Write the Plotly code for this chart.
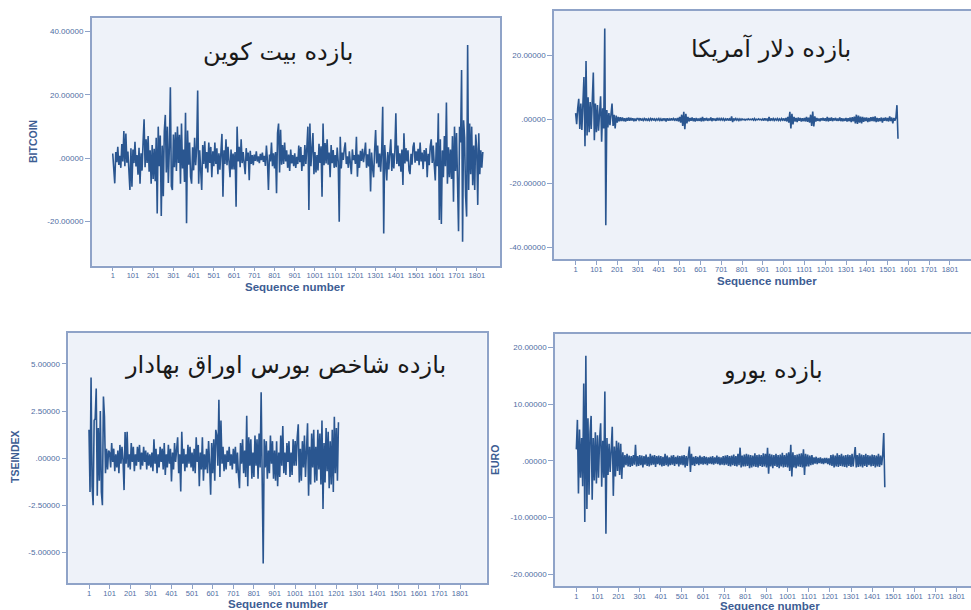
import plotly.graph_objects as go

# ---------------- data (values sampled every 5 sequence numbers) ----------------
bitcoin = [
    1.5, -3.2, -7.9, 2.0, -1.2, 3.6, -2.1, 0.8, -3.0, 4.5, -1.0, 8.6, -2.5, 7.8, -1.4, 2.1, -5.0, -10.0, 3.2, -9.0,
    2.8, -1.5, 5.2, -2.6, 1.0, -5.2, 3.3, -8.0, 1.6, -3.9, 5.1, 12.3, -2.8, 6.0, -1.5, 7.0, -4.2, 2.5, -8.0, 4.2,
    -6.5, 3.0, -7.2, 6.5, -17.4, 10.0, -2.5, 7.2, -18.2, 4.0, -12.0, 8.5, 13.7, -4.5, 10.0, -7.8, 3.2, 22.4, -8.8, -10.0,
    7.5, -2.8, 8.2, -4.0, 10.0, -1.5, 7.4, -8.0, 11.0, -3.2, 2.8, -7.5, 14.4, -20.5, 8.8, -2.0, 5.0, -5.8, -8.0, 3.5,
    -3.8, 6.5, -2.2, 3.0, 21.4, -8.0, 2.5, -6.0, -10.0, 4.2, -1.8, 5.4, -3.2, 2.0, -4.5, 5.0, -1.5, 3.6, -6.0, 2.2,
    -2.5, 5.0, -1.8, 3.2, -5.0, 1.6, -3.6, 2.0, 7.7, -12.1, 2.5, -1.8, 6.0, -2.2, 3.6, -1.0, -6.0, 2.8, -3.5, 1.5,
    -3.5, 2.0, -15.3, 10.0, -1.0, 3.6, -2.8, 6.0, -1.5, 2.0, -1.2, -5.0, 3.2, -0.8, 1.8, -6.9, 2.4, -1.8, 1.0, -2.2,
    1.2, -0.8, 2.2, -1.0, 0.6, -1.5, 1.4, -0.6, 1.8, -1.1, 0.8, -2.4, 4.0, -0.8, -10.0, 1.2, -1.0, 5.0, -2.5, 1.6,
    -3.2, 2.0, -11.0, 8.0, 11.0, -4.5, 9.0, -2.0, 4.2, -1.8, 5.0, -1.0, 2.5, -3.0, 1.2, -4.0, 2.8, -1.6, 1.0, -2.5,
    1.6, -3.0, 0.5, -1.8, 4.0, -1.2, 3.6, -4.0, 1.0, -2.5, 4.2, -1.8, 3.5, 10.0, -16.3, 11.0, -2.5, 5.0, 8.0, -5.0,
    2.0, -4.5, 1.0, -3.8, 4.6, -1.5, 3.8, -12.1, 11.0, -2.2, 4.8, -1.6, 6.0, -2.0, 1.8, -6.0, 4.2, -1.5, 2.6, -3.0,
    1.0, -2.8, 3.4, -1.0, -20.0, 6.8, -3.2, 1.8, -0.5, 3.0, 5.0, -1.8, 0.6, -3.0, 2.2, -1.5, -5.0, 2.8, -0.6, 1.0,
    -1.8, 6.8, -5.8, 1.2, -3.0, 2.4, -0.8, 3.0, -1.2, 1.6, 5.0, -3.0, 1.3, -2.6, 3.0, -10.5, 1.8, -3.2, -6.0, 2.5,
    8.9, -1.6, 4.0, -2.8, 1.5, -4.2, 2.5, 16.3, -23.7, 4.2, -1.8, -7.0, 2.0, -3.5, 1.8, 6.0, -4.0, 1.6, -3.2, 2.2,
    14.2, -1.8, 4.0, -2.5, 1.6, -4.2, 2.8, -8.4, 7.9, -1.6, 3.2, -1.0, 2.5, -3.8, -5.0, 1.4, -2.0, 3.6, 5.0, -1.4,
    2.2, -0.8, 3.0, -2.2, 5.0, -1.0, 1.8, -3.4, 2.6, -1.0, 3.2, -6.0, 1.4, -2.2, 3.8, 6.0, -1.5, 4.0, -2.2, -7.0,
    5.0, -2.5, 14.2, -19.5, 6.0, -20.7, 2.5, -6.0, 7.0, -2.5, 17.6, -8.0, 3.5, -6.0, 2.8, -6.5, 7.0, -13.7, 10.0, -4.0,
    8.0, -9.0, -23.0, 10.0, 5.0, 27.9, -26.3, 12.0, 6.5, -12.0, -18.4, 35.8, -10.0, 11.0, -5.0, 10.0, -8.5, 4.0, -10.0, 7.5,
    3.0, -14.7, 7.9, -5.0, 2.5, -3.0, 2.0,
]

dollar = [
    2.0, -1.5, 3.5, 6.5, -3.0, 5.0, -3.3, 4.0, 13.3, -8.4, 18.3, -5.0, 7.0, -4.0, 5.5, -3.0, 4.5, 14.7, -6.5, 5.0,
    -4.0, 4.5, -3.5, 3.8, 7.3, -7.0, 3.5, -2.8, 28.5, -33.1, 3.0, -2.5, 2.0, -1.8, 2.5, 5.0, -2.0, 1.5, -2.8, 1.2,
    -1.0, 0.8, -0.6, 0.7, -0.5, 0.6, -0.5, 0.4, -0.6, 0.5, -0.4, 0.6, -0.4, 0.5, -0.3, 0.4, -0.5, 0.3, -0.4, 0.3,
    0.3, -0.2, 0.4, -0.3, 0.2, -0.3, 0.3, -0.2, 0.3, -0.4, 0.2, -0.3, 0.3, -0.2, 0.4, -0.3, 0.2, -0.3, 0.2, -0.2,
    0.3, -0.3, 0.2, -0.4, 0.3, -0.2, 0.3, -0.6, 0.4, -0.3, 0.2, -0.3, 0.4, -0.3, 0.3, -0.2, 0.3, -0.4, 0.5, -0.6,
    0.8, -1.0, 1.5, -2.0, 2.4, -3.0, 1.8, -1.2, 0.8, -0.6, 0.5, -0.4, 0.6, -0.5, 0.4, -0.6, 0.5, -0.4, 0.3, -0.4,
    0.5, -0.6, 0.8, -0.5, 0.4, -0.3, 0.5, -0.4, 0.3, -0.3, 0.6, -0.5, 0.4, -0.3, 0.3, -0.4, 0.5, -0.3, 0.3, -0.2,
    0.3, -0.2, 0.3, -0.3, 0.2, -0.3, 0.4, -0.3, 0.2, -0.3, 1.0, -0.8, 0.3, -0.2, 0.3, -0.2, 0.2, -0.3, 0.2, -0.2,
    0.2, -0.1, 0.1, -0.2, 0.1, -0.1, 0.2, -0.1, 0.1, -0.1, 0.2, -0.2, 0.3, -0.2, 0.1, -0.1, 0.2, -0.1, 0.1, -0.2,
    0.2, -0.3, 0.4, -0.3, 0.3, -0.5, 0.8, -0.4, 0.3, -0.2, 0.3, -0.3, 0.2, -0.2, 0.3, -0.3, 0.2, -0.3, 0.3, -0.2,
    0.3, -0.4, 0.5, -0.6, 0.8, -1.0, 2.4, -2.8, 1.8, -1.5, 0.8, -0.6, 0.5, -0.8, 0.6, -0.4, 0.5, -0.6, 0.4, -0.5,
    0.5, -0.6, 0.8, -0.7, 0.6, -1.0, 1.5, -2.0, 2.5, -2.2, 1.0, -0.6, 0.5, -0.4, 0.3, -0.5, 0.4, -0.3, 0.5, -0.4,
    0.4, -0.5, 0.8, -0.6, 0.5, -0.4, 0.6, -0.5, 0.4, -0.3, 0.5, -0.4, 0.3, -0.4, 0.6, -0.5, 0.4, -0.5, 0.3, -0.4,
    0.5, -0.6, 0.4, -0.5, 0.6, -0.8, 0.7, -0.6, 0.9, -1.2, 1.5, -1.4, 1.2, -1.0, 0.9, -1.2, 0.8, -0.7, 0.6, -0.5,
    0.6, -0.8, 0.5, -0.6, 0.7, -0.5, 0.8, -0.6, 1.0, -0.8, 0.5, -0.6, 0.4, -0.5, 0.6, -1.0, 0.5, -0.4, 0.6, -0.5,
    0.5, -0.6, 1.0, -0.5, 0.6, -1.2, 0.5, -0.4, 0.6, 4.5, -6.0,
]

tseindex = [
    1.5, -1.8, 4.28, -1.5, -2.5, 2.0, 2.1, 3.7, -2.0, 1.6, -1.2, 2.5, -1.8, -2.5, 3.27, 2.2, -0.8, 0.5, -0.6, 0.4,
    0.3, -0.5, 0.8, -0.2, 0.5, -0.7, 0.2, -0.5, 0.4, -0.8, 0.7, -0.3, 0.6, -0.1, -1.7, 1.38, -0.3, 1.4, -0.5, 0.2,
    -0.6, 0.8, -0.2, 0.6, -0.7, 0.2, -0.4, 0.6, -0.2, 0.7, -0.6, 0.3, -0.4, 0.6, -0.2, 0.4, -0.6, 0.3, -0.4, 0.2,
    -0.5, 0.3, -0.7, 1.0, -0.3, 0.5, -0.8, 0.2, -0.5, 0.6, -0.2, 0.5, -0.6, 0.8, -0.9, 0.2, -0.5, 0.7, -0.3, 0.5,
    -1.24, 0.3, -0.6, 0.8, -0.2, 0.6, 1.1, -0.8, 0.2, -1.77, 1.4, -0.3, 0.5, -0.7, 0.2, -0.5, 0.7, -0.3, 0.6, -0.5,
    0.3, -0.7, 0.5, -0.8, 1.1, -0.2, 0.7, -1.5, 0.3, -0.6, 1.1, -1.2, 0.2, -0.6, 0.5, -0.8, 0.9, -0.3, -1.95, 0.8,
    -0.8, 1.0, -1.2, 1.5, 1.2, -0.4, 3.1, -1.0, 2.0, -0.3, 0.6, -0.7, 0.2, -0.6, 0.4, -0.2, 0.6, -0.4, 0.2, -0.6,
    0.5, -0.3, 0.6, -0.8, 0.3, -0.9, -1.6, 0.8, -0.3, 1.0, -0.8, 0.4, -1.0, 2.25, -1.5, 1.1, -0.4, 1.0, -1.1, 0.3,
    -1.0, 1.2, -0.4, 1.0, -1.1, 1.3, -0.5, 3.5, -1.8, -5.6, 1.0, -0.5, 0.9, -1.1, 0.4, -0.8, 1.2, -0.3, 0.9, -1.1,
    0.4, -1.2, 0.9, -1.5, 0.3, -1.0, 1.2, -0.4, 1.7, -0.8, 0.3, -0.9, 0.8, -0.2, 0.9, -1.0, 0.3, -0.9, 1.0, -0.4,
    0.9, -0.4, 1.1, 1.8, -1.3, 0.5, -1.2, 0.9, -0.5, 1.2, -1.0, 0.4, 1.85, -2.0, 0.6, -1.4, 1.3, -0.5, 1.5, -1.3,
    0.6, -1.2, 1.5, -0.6, 1.3, -1.4, 2.0, -2.7, 0.8, -1.3, 1.6, -0.7, 1.4, -1.6, 0.9, -1.4, 1.5, -1.8, 2.2, -0.8,
    1.6, -1.2, 1.9,
]

euro = [
    2.0, 7.2, -5.8, 5.5, -3.0, 4.0, -4.5, 13.6, -10.8, 18.5, -8.5, 7.5, -6.0, 5.0, 7.9, -6.9, 4.0, -3.5, 5.0, -4.0,
    4.5, -3.0, 3.8, 6.6, -4.6, 3.5, -3.0, 12.2, -12.9, 4.0, -2.5, 3.0, -2.0, 2.8, 6.0, -6.2, 2.5, -2.8, 3.5, -1.8,
    3.2, -2.5, 3.0, -3.2, 1.5, -1.2, 1.0, -0.8, 1.2, -1.0, 0.9, -1.1, 0.8, -0.9, 1.0, -0.7, 2.8, -1.0, 0.8, -0.9,
    1.0, -0.8, 0.9, -1.2, 0.8, -0.7, 1.1, -0.9, 0.7, -1.0, 1.2, -0.8, 0.9, -0.7, 1.0, -1.1, 0.8, -0.6, 0.9, -0.8,
    0.8, -1.0, 0.7, -0.9, 1.2, -0.8, 0.9, -1.0, 0.6, -0.8, 0.9, -0.7, 1.0, -0.9, 0.7, -0.6, 0.9, -1.0, 0.8, -0.7,
    0.9, -0.8, 1.0, -1.2, 0.8, -0.9, 1.4, 2.5, -2.0, 1.2, -0.8, 0.7, -0.9, 0.8, -0.6, 0.7, -0.8, 0.9, -0.6, 0.7,
    -0.7, 0.8, -0.6, 0.7, -0.8, 0.6, -0.5, 0.7, -0.6, 0.8, -0.7, 0.6, -0.5, 0.9, -0.6, 0.7, -0.8, 0.6, -0.7, 0.8,
    -0.8, 0.9, -0.7, 1.0, -0.9, 0.8, -1.0, 0.9, -0.8, 1.1, -0.9, 0.8, -1.0, 1.2, -0.8, 2.3, -1.2, 0.9, -1.0, 1.1,
    -1.0, 1.2, -0.9, 1.1, -1.3, 1.0, -1.2, 0.9, -1.0, 1.3, -1.1, 1.0, -1.2, 1.1, -0.9, 1.0, -1.1, 1.3, -1.0, 1.2,
    -1.2, 2.3, -2.3, 1.2, -1.0, 1.1, -1.3, 1.0, -0.9, 1.2, -1.1, 1.0, -1.3, 1.1, -1.0, 1.4, -1.2, 1.0, -1.1, 1.3,
    -1.2, 1.5, -1.8, 2.8, -2.8, 1.5, -1.2, 1.0, -1.3, 1.1, -1.0, 1.2, -1.1, 1.3, -1.2, 2.0, -2.5, 1.2, -1.0, 1.1,
    -1.0, 0.9, -0.8, 1.0, -0.7, 0.6, -0.5, 0.7, -0.6, 0.5, -0.4, 0.6, -0.5, 0.4, -0.6, 0.5, -0.4, 0.5, -0.6, 0.4,
    -0.8, 1.0, -0.9, 1.1, -1.2, 0.9, -1.0, 1.3, -1.1, 1.0, -0.9, 1.2, -1.0, 0.9, -1.1, 1.0, -1.2, 1.1, -0.9, 1.0,
    -1.1, 1.2, -1.0, 1.3, 2.4, -1.2, 1.0, -1.1, 1.3, -1.0, 1.1, -1.2, 1.0, -0.9, 1.2, -1.1, 1.0, -0.8, 0.9, -1.0,
    1.1, -0.9, 1.0, -1.2, 0.9, -1.0, 1.2, -1.1, 0.9, -0.8, 1.0, 4.9, -4.7,
]

x_ticks = [1 + 100 * i for i in range(19)]
x_tick_labels = [str(v) for v in x_ticks]

bitcoin_ticks = [40, 20, 0, -20]
bitcoin_labels = ["40.00000", "20.00000", ".00000", "-20.00000"]
dollar_ticks = [20, 0, -20, -40]
dollar_labels = ["20.00000", ".00000", "-20.00000", "-40.00000"]
tse_ticks = [5, 2.5, 0, -2.5, -5]
tse_labels = ["5.00000", "2.50000", ".00000", "-2.50000", "-5.00000"]
euro_ticks = [20, 10, 0, -10, -20]
euro_labels = ["20.00000", "10.00000", ".00000", "-10.00000", "-20.00000"]

titles = ["بازده بیت کوین", "بازده دلار آمریکا", "بازده شاخص بورس اوراق بهادار", "بازده یورو"]
x_title = "Sequence number"

# ---------------- styling ----------------
W, H = 971, 610
LINE = "#2a5690"
FRAME = "#8fa3c8"
TICKC = "#4f6ea3"
LABC = "#3d5d93"
BG = "#eef2f9"

def seq(values):
    return list(range(1, 1 + 5 * len(values), 5))

def px_x(p):
    return p / W

def px_y(p):
    return 1 - p / H

panels = [
    (bitcoin, (91.7, 500), (18.3, 265.7), (-103, 1916), (-33.9, 44.2), bitcoin_ticks, bitcoin_labels, True),
    (dollar, (554, 971), (11, 259.3), (-103, 1902), (-43.8, 34.0), dollar_ticks, dollar_labels, False),
    (tseindex, (68.3, 486.7), (332.7, 583.3), (-99.4, 1930), (-6.65, 6.66), tse_ticks, tse_labels, True),
    (euro, (555, 971), (334, 586), (-100, 1869), (-22.1, 22.35), euro_ticks, euro_labels, False),
]

fig = go.Figure()
layout = dict(
    width=W, height=H, margin=dict(l=0, r=0, t=0, b=0),
    paper_bgcolor="white", plot_bgcolor=BG, showlegend=False,
    font=dict(family="Liberation Sans, Arial, sans-serif", color=TICKC),
)

for i, (vals, dx, dy, xr, yr, yt, yl, mright) in enumerate(panels, start=1):
    xa = "x" if i == 1 else f"x{i}"
    ya = "y" if i == 1 else f"y{i}"
    fig.add_trace(go.Scatter(x=seq(vals), y=vals, mode="lines", xaxis=xa, yaxis=ya,
                             line=dict(color=LINE, width=1.6), hoverinfo="skip"))
    xkey = "xaxis" if i == 1 else f"xaxis{i}"
    ykey = "yaxis" if i == 1 else f"yaxis{i}"
    layout[xkey] = dict(
        domain=[px_x(dx[0]), px_x(dx[1])], range=list(xr), anchor=ya,
        showgrid=False, zeroline=False, showline=True, linecolor=FRAME, linewidth=1.5,
        mirror=True, ticks="outside", ticklen=4, tickcolor=FRAME, tickwidth=1,
        tickmode="array", tickvals=x_ticks, ticktext=x_tick_labels, tickangle=0,
        ticklabelstandoff=-2,
        tickfont=dict(size=7.5, color=TICKC),
    )
    layout[ykey] = dict(
        domain=[px_y(dy[1]), px_y(dy[0])], range=list(yr), anchor=xa,
        showgrid=False, zeroline=False, showline=True, linecolor=FRAME, linewidth=1.5,
        mirror=mright, ticks="outside", ticklen=5, tickcolor=FRAME, tickwidth=1,
        tickmode="array", tickvals=yt, ticktext=yl,
        tickfont=dict(size=8, color=TICKC),
    )

fig.update_layout(**layout)

annotations = []
title_pos = [(278, 52), (771, 48), (285, 365), (773, 370)]
for t, (cx, cy) in zip(titles, title_pos):
    annotations.append(dict(text=t, x=px_x(cx), y=px_y(cy), xref="paper", yref="paper",
                            showarrow=False, xanchor="center", yanchor="middle",
                            font=dict(family="DejaVu Serif, DejaVu Sans, serif", size=24, color="#1a1a1a")))
for (cx, cy) in [(295, 287), (767, 281), (278, 604), (770, 606)]:
    annotations.append(dict(text="<b>" + x_title + "</b>", x=px_x(cx), y=px_y(cy), xref="paper", yref="paper",
                            showarrow=False, xanchor="center", yanchor="middle",
                            font=dict(size=11.5, color=LABC)))
for name, (cx, cy) in [("BITCOIN", (33, 142)), ("TSEINDEX", (15, 457)), ("EURO", (495, 460))]:
    annotations.append(dict(text="<b>" + name + "</b>", x=px_x(cx), y=px_y(cy), xref="paper", yref="paper",
                            showarrow=False, xanchor="center", yanchor="middle", textangle=-90,
                            font=dict(size=10.5, color=LABC)))
fig.update_layout(annotations=annotations)

fig.write_html("out.html", config={"displayModeBar": False},
               post_script="document.body.style.margin='0';document.body.style.overflow='hidden';")
